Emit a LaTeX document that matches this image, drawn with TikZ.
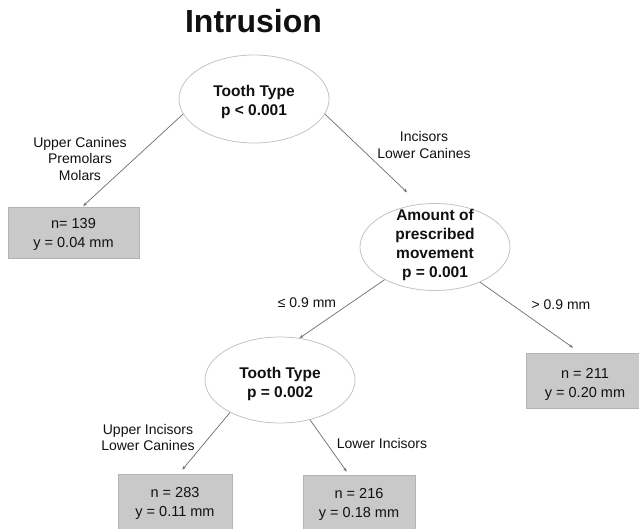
\documentclass[tikz,border=0pt]{standalone}
\usepackage{fontspec}
\setmainfont{Liberation Sans}
\usetikzlibrary{arrows.meta,shapes.geometric}
\definecolor{ellgray}{HTML}{C4C4C4}
\definecolor{boxgray}{HTML}{C9C9C9}
\definecolor{boxedge}{HTML}{B4B4B4}
\definecolor{edgegray}{HTML}{6E6E6E}
\definecolor{txt}{HTML}{111111}
\begin{document}
\begin{tikzpicture}[x=1pt,y=-1pt,
  ell/.style={draw=ellgray, line width=0.8pt, ellipse, fill=white, inner sep=0pt, minimum width=150pt},
  leaf/.style={draw=boxedge, fill=boxgray, rectangle, inner sep=0pt, line width=0.6pt},
  etext/.style={font=\fontsize{15.5}{19}\selectfont\bfseries, align=center, inner sep=0pt, text=txt},
  ltext/.style={font=\fontsize{14.5}{19}\selectfont, align=center, inner sep=0pt, text=txt},
  lab/.style={font=\fontsize{14}{16.5}\selectfont, align=center, inner sep=0pt, text=txt},
  conn/.style={draw=edgegray, line width=0.7pt, -{Stealth[length=4pt,width=3pt]}}]
\path[fill=white] (0,0) rectangle (639,529);
\useasboundingbox (0,0) rectangle (639,529);

\node[font=\fontsize{32}{38}\selectfont\bfseries, anchor=base, text=txt, inner sep=0pt] (title) at (253.5,33) {Intrusion};

% ellipses
\node[ell, minimum height=88pt] (e1) at (254,99) {};
\node[ell, minimum height=87pt] (e2) at (435,247) {};
\node[ell, minimum height=86pt] (e3) at (280,380) {};

\node[etext] (t1) at (254,102) {Tooth Type\\p < 0.001};
\node[etext] (t2) at (435,245) {Amount of\\prescribed\\movement\\p = 0.001};
\node[etext] (t3) at (280,384) {Tooth Type\\p = 0.002};

% leaves
\node[leaf, minimum width=131pt, minimum height=51pt] (leaf1) at (73.5,232.5) {};
\node[leaf, minimum width=118pt, minimum height=55pt] (leaf2) at (585,380.5) {};
\node[leaf, minimum width=114pt, minimum height=56pt] (leaf3) at (175,502) {};
\node[leaf, minimum width=112pt, minimum height=55pt] (leaf4) at (359,502.5) {};

\node[ltext] (lt1) at (73.5,234.5) {n= 139\\y = 0.04 mm};
\node[ltext] (lt2) at (585,384) {n = 211\\y = 0.20 mm};
\node[ltext] (lt3) at (175,503.5) {n = 283\\y = 0.11 mm};
\node[ltext] (lt4) at (359,504.5) {n = 216\\y = 0.18 mm};

% branch labels
\node[lab] (la1) at (80,158.5) {Upper Canines\\Premolars\\Molars};
\node[lab] (la2) at (424,145) {Incisors\\Lower Canines};
\node[lab] (la3) at (307,303) {≤ 0.9 mm};
\node[lab] (la4) at (561,305) {> 0.9 mm};
\node[lab] (la5) at (148,437.5) {Upper Incisors\\Lower Canines};
\node[lab] (la6) at (382,443) {Lower Incisors};

% connectors
\draw[conn, shorten >=1pt] (e1.192.9) -- (leaf1.71.6);
\draw[conn, shorten >=17pt] (e1.348.8) -- (e2.110.6);
\draw[conn] (e2.213.4) -- (e3.65);
\draw[conn, shorten >=8.6pt] (e2.322.1) -- (leaf2.100.3);
\draw[conn, shorten >=5.2pt] (e3.213.7) -- (leaf3.82.5);
\draw[conn, shorten >=3.7pt] (e3.307.8) -- (leaf4.110);
\end{tikzpicture}
\end{document}
